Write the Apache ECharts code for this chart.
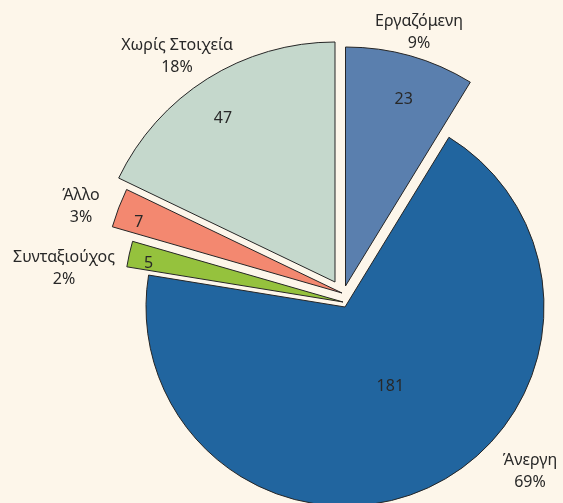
<!DOCTYPE html>
<html>
<head>
<meta charset="utf-8">
<script src="https://cdn.jsdelivr.net/npm/echarts@6/dist/echarts.min.js"></script>
<style>
  html, body { margin: 0; padding: 0; background: #fdf6ea; }
  #chart { width: 563px; height: 503px; }
</style>
</head>
<body>
<div id="chart"></div>
<script>
var categories = ['Εργαζόμενη', 'Άνεργη', 'Συνταξιούχος', 'Άλλο', 'Χωρίς Στοιχεία'];
var values = [23, 181, 5, 7, 47];
var colors = ['#5a7fae', '#21659f', '#95c23d', '#f38870', '#c5d8cc'];

var FONT = 'Noto Sans';
var TEXT = '#282828';

var total = values.reduce(function (a, b) { return a + b; }, 0);
function pct(v) { return Math.round(v / total * 100); }

// exploded wedges: apex, radius, where the value sits (fraction of radius) and a small nudge
var wedges = [
    { center: [345.5, 286], r: 239, k: 0.82, nudge: [5, 2] },
    { center: [345, 307], r: 199, k: 0.45, nudge: [8, -2] },
    { center: [343, 302], r: 219, k: 0.91, nudge: [0, 5] },
    { center: [342, 293], r: 239, k: 0.91, nudge: [0, 7] },
    { center: [335, 282], r: 240, k: 0.83, nudge: [-6, 5] }
];

// name + percent labels (centre of the two-line block)
var nameLabelPos = [[419, 32], [530, 471], [64, 268], [81, 206], [177, 56]];

function midAngle(i) {
    var before = 0;
    for (var j = 0; j < i; j++) before += values[j];
    return (before + values[i] / 2) / total * 2 * Math.PI;
}

function wedgeSeries(i) {
    var w = wedges[i];
    return {
        type: 'pie',
        center: w.center,
        radius: w.r,
        startAngle: 90,
        clockwise: true,
        silent: true,
        animation: false,
        avoidLabelOverlap: false,
        label: {
            show: true,
            position: 'inside',
            formatter: '{c}',
            color: TEXT,
            fontFamily: FONT,
            fontSize: 16
        },
        labelLine: { show: false },
        labelLayout: function (p) {
            var a = midAngle(p.dataIndex);
            return {
                x: w.center[0] + w.k * w.r * Math.sin(a) + w.nudge[0],
                y: w.center[1] - w.k * w.r * Math.cos(a) + w.nudge[1],
                align: 'center',
                verticalAlign: 'middle'
            };
        },
        data: categories.map(function (name, j) {
            if (j === i) {
                return {
                    name: name,
                    value: values[j],
                    itemStyle: { color: colors[j], borderColor: '#262626', borderWidth: 1 }
                };
            }
            return {
                name: name,
                value: values[j],
                itemStyle: { color: 'transparent', borderWidth: 0 },
                label: { show: false }
            };
        })
    };
}

var series = categories.map(function (c, i) { return wedgeSeries(i); });

series.push({
    type: 'pie',
    center: [343, 300],
    radius: 200,
    startAngle: 90,
    silent: true,
    animation: false,
    avoidLabelOverlap: false,
    itemStyle: { color: 'transparent', borderWidth: 0 },
    label: {
        show: true,
        position: 'outside',
        formatter: function (p) { return p.name + '\n' + pct(p.value) + '%'; },
        color: TEXT,
        fontFamily: FONT,
        fontSize: 16,
        lineHeight: 22,
        align: 'center'
    },
    labelLine: { show: false },
    labelLayout: function (p) {
        var pos = nameLabelPos[p.dataIndex];
        return { x: pos[0], y: pos[1], align: 'center', verticalAlign: 'middle' };
    },
    data: categories.map(function (name, j) { return { name: name, value: values[j] }; })
});

var chart = echarts.init(document.getElementById('chart'));
chart.setOption({
    backgroundColor: '#fdf6ea',
    series: series
});
</script>
</body>
</html>
